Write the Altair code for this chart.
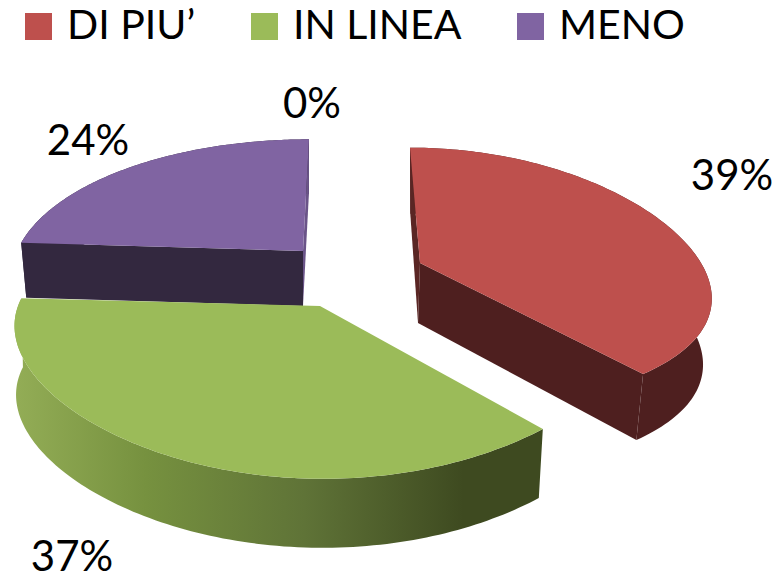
import altair as alt
import numpy as np
import pandas as pd

categories = ["DI PIU’", "IN LINEA", "MENO"]
values = [39, 37, 24, 0]
colors = ["#BE504D", "#9BBB59", "#8064A2"]
wall_colors = ["#4E1F1F", None, "#33283F"]
sliver_colors = ["#5A2624", None, "#6A5488"]
FONT = "Lato"
LEGEND_SIZE = 41
LABEL_SIZE = 42

# perspective geometry of each slice: apex, rim offset, radii, foreshortening, thickness
geometry = [
    dict(cx=420, cy=263, u0=-10, a=291, px=.265, b=130, py=.127, depth=66, cut=60, k=.03, kl=.03),
    dict(cx=320, cy=306, u0=3, a=305, px=.15, b=127, py=.265, depth=69, cut=68, k=.018, kl=.005),
    dict(cx=303, cy=251, u0=6, a=292, px=.2, b=134, py=.2, depth=55, cut=55, k=.018, kl=.018),
]
label_x = [732, 72, 88, 312]
label_y = [190, 571, 155, 118]

edges = np.cumsum([0] + values[:3]) / sum(values) * 2 * np.pi


def rim(g, t):
    X, Y = np.sin(t), -np.cos(t)
    return (g["u0"] + g["a"] * X / (1 - g["px"] * Y),
            g["b"] * Y / (1 - g["py"] * Y))


def top_face(i):
    g = geometry[i]
    t = np.linspace(edges[i], edges[i + 1], 120)
    u, v = rim(g, t)
    return pd.DataFrame({"x": np.r_[g["cx"], g["cx"] + u, g["cx"]],
                         "y": np.r_[g["cy"], g["cy"] + v, g["cy"]],
                         "cat": categories[i]}).assign(i=lambda d: range(len(d)))


def outer_wall(i):
    g = geometry[i]
    t = np.linspace(edges[i], edges[i + 1], 120)
    u, v = rim(g, t)
    x = g["cx"] + u
    y = g["cy"] + v
    xb = x - np.where(u > 0, g["k"], g["kl"]) * u
    yb = y + g["depth"]
    return pd.DataFrame({"x": np.r_[x, xb[::-1], x[0]],
                         "y": np.r_[y, yb[::-1], y[0]]}).assign(i=lambda d: range(len(d)))


def cut_wall(i, t):
    g = geometry[i]
    u, v = rim(g, t)
    x, y = g["cx"] + u, g["cy"] + v
    ax = g["cx"] - 2 if i == 0 else g["cx"]
    return pd.DataFrame({"x": [g["cx"], x, x - g["k"] * u, ax, g["cx"]],
                         "y": [g["cy"], y, y + g["depth"], g["cy"] + g["cut"], g["cy"]],
                         "i": range(5)})


X = alt.X("x:Q", axis=None, scale=alt.Scale(domain=[8, 773], range=[0, 765]))
Y = alt.Y("y:Q", axis=None, scale=alt.Scale(domain=[8, 577], range=[0, 569]))


def poly(df, fill):
    return alt.Chart(df).mark_line(filled=True, fill=fill, stroke=None).encode(
        x=X, y=Y, order="i:Q")


def top(i):
    return alt.Chart(top_face(i)).mark_line(filled=True, stroke=None).encode(
        x=X, y=Y, order="i:Q",
        fill=alt.Fill("cat:N", sort=categories,
                      scale=alt.Scale(domain=categories, range=colors),
                      legend=alt.Legend(title=None, orient="none", legendX=10, legendY=-2,
                                        direction="horizontal", columns=3,
                                        symbolType="square", symbolSize=729,
                                        symbolStrokeWidth=0, symbolOpacity=1,
                                        labelFont=FONT, labelFontSize=LEGEND_SIZE,
                                        labelColor="#000000",
                                        labelOffset=8, labelLimit=400, columnPadding=48,
                                        gridAlign="none")))


green_gradient = alt.Gradient(
    gradient="linear", x1=0, x2=1, y1=0, y2=0,
    stops=[alt.GradientStop(offset=0, color="#93AD56"),
           alt.GradientStop(offset=.25, color="#76913F"),
           alt.GradientStop(offset=.55, color="#5F7337"),
           alt.GradientStop(offset=.85, color="#3E4A20"),
           alt.GradientStop(offset=1, color="#3E4A20")])

layers = [
    poly(outer_wall(2), wall_colors[2]),
    poly(cut_wall(2, edges[3]), sliver_colors[2]),
    poly(cut_wall(2, edges[2]), wall_colors[2]),
    top(2),
    poly(outer_wall(1), green_gradient),
    top(1),
    poly(outer_wall(0), wall_colors[0]),
    poly(cut_wall(0, edges[0]), sliver_colors[0]),
    poly(cut_wall(0, edges[1]), wall_colors[0]),
    top(0),
]

labels = pd.DataFrame({"x": label_x, "y": label_y, "t": [f"{v}%" for v in values]})
layers.append(alt.Chart(labels).mark_text(font=FONT, fontSize=LABEL_SIZE, color="#000000",
                                          baseline="alphabetic", align="center").encode(
    x=X, y=Y, text="t:N"))

chart = alt.layer(*layers).properties(
    width=765, height=569, padding=0,
    autosize=alt.AutoSizeParams(type="none"),
).configure_view(stroke=None)

chart.save("out.html", embed_options={"renderer": "svg", "actions": False})
